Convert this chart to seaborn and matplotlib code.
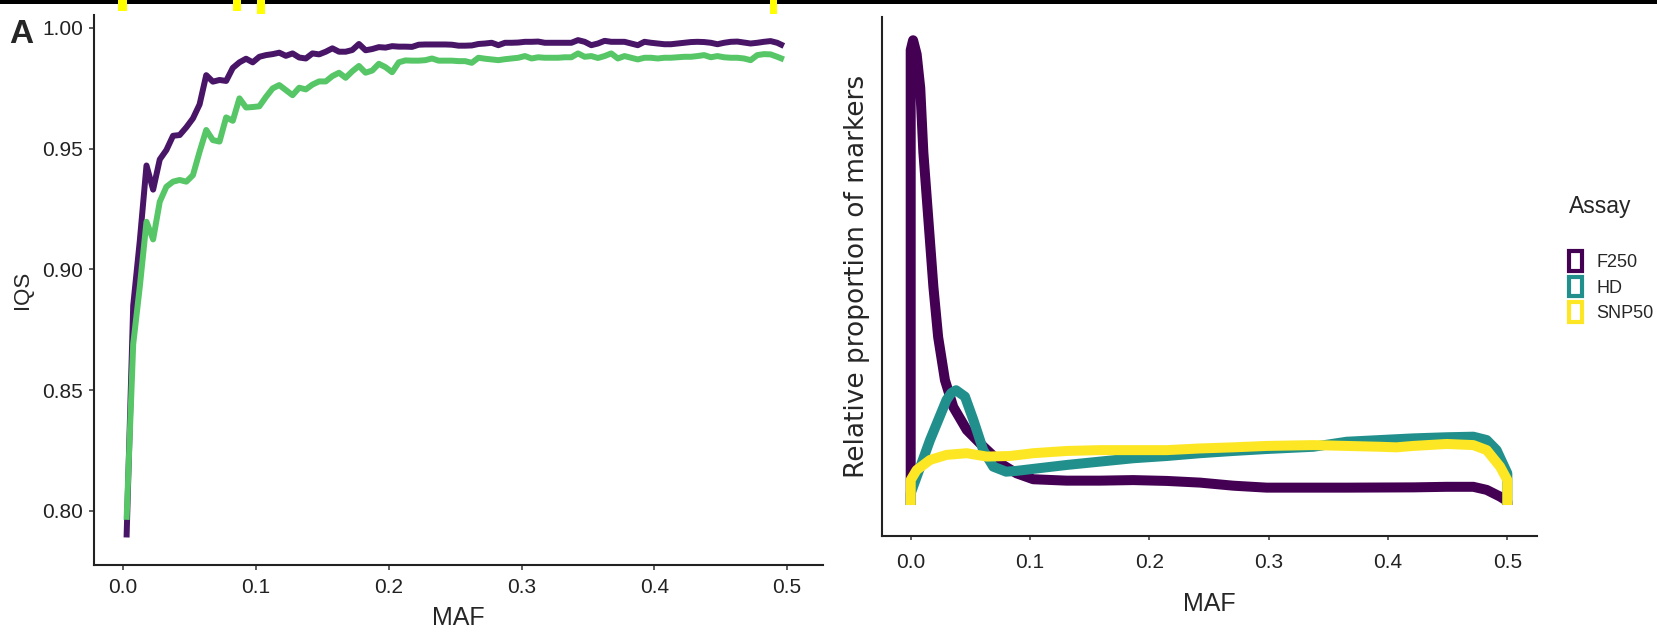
import matplotlib
matplotlib.use('Agg')
from matplotlib import pyplot as plt
from matplotlib.patches import Patch, Rectangle
from matplotlib.ticker import FormatStrFormatter
import pandas as pd
import seaborn as sns

# ---- panel A (left): IQS by MAF bin ----
maf_bins = [
    0.0025, 0.0075, 0.0125, 0.0175, 0.0225, 0.0275, 0.0325, 0.0375, 0.0425, 0.0475,
    0.0525, 0.0575, 0.0625, 0.0675, 0.0725, 0.0775, 0.0825, 0.0875, 0.0925, 0.0975,
    0.1025, 0.1075, 0.1125, 0.1175, 0.1225, 0.1275, 0.1325, 0.1375, 0.1425, 0.1475,
    0.1525, 0.1575, 0.1625, 0.1675, 0.1725, 0.1775, 0.1825, 0.1875, 0.1925, 0.1975,
    0.2025, 0.2075, 0.2125, 0.2175, 0.2225, 0.2275, 0.2325, 0.2375, 0.2425, 0.2475,
    0.2525, 0.2575, 0.2625, 0.2675, 0.2725, 0.2775, 0.2825, 0.2875, 0.2925, 0.2975,
    0.3025, 0.3075, 0.3125, 0.3175, 0.3225, 0.3275, 0.3325, 0.3375, 0.3425, 0.3475,
    0.3525, 0.3575, 0.3625, 0.3675, 0.3725, 0.3775, 0.3825, 0.3875, 0.3925, 0.3975,
    0.4025, 0.4075, 0.4125, 0.4175, 0.4225, 0.4275, 0.4325, 0.4375, 0.4425, 0.4475,
    0.4525, 0.4575, 0.4625, 0.4675, 0.4725, 0.4775, 0.4825, 0.4875, 0.4925, 0.4975,
]
iqs_purple = [
    0.789, 0.885, 0.912, 0.943, 0.933, 0.9455, 0.9494, 0.9553, 0.9556, 0.9588,
    0.9625, 0.9683, 0.9804, 0.9777, 0.9784, 0.978, 0.9834, 0.9857, 0.9872, 0.9857,
    0.988, 0.9887, 0.9891, 0.9897, 0.9884, 0.9894, 0.9877, 0.9873, 0.9894, 0.989,
    0.9901, 0.9915, 0.9901, 0.9901, 0.9908, 0.9933, 0.9907, 0.9912, 0.992, 0.9918,
    0.9924, 0.9922, 0.9922, 0.9921, 0.993, 0.9931, 0.9931, 0.9931, 0.9931, 0.993,
    0.9926, 0.9926, 0.9927, 0.9933, 0.9935, 0.9938, 0.9928, 0.9938, 0.9938, 0.9939,
    0.9942, 0.9942, 0.9943, 0.9938, 0.9938, 0.9938, 0.9938, 0.9938, 0.9949, 0.9942,
    0.9928, 0.9935, 0.9946, 0.9942, 0.9942, 0.9942, 0.9935, 0.9928, 0.9942, 0.9938,
    0.9935, 0.9932, 0.9932, 0.9935, 0.9938, 0.9941, 0.9942, 0.9941, 0.9938, 0.9932,
    0.9938, 0.9942, 0.9943, 0.9939, 0.9935, 0.9938, 0.9942, 0.9945, 0.9938, 0.9925,
]
iqs_green = [
    0.7963, 0.869, 0.893, 0.9197, 0.9124, 0.928, 0.9342, 0.9363, 0.937, 0.9363,
    0.939, 0.9487, 0.9577, 0.9535, 0.9529, 0.9629, 0.9615, 0.9708, 0.967, 0.9672,
    0.9675, 0.9714, 0.9749, 0.9763, 0.9742, 0.9721, 0.9752, 0.9745, 0.9765, 0.9778,
    0.9778, 0.98, 0.9814, 0.9793, 0.982, 0.9842, 0.9814, 0.9823, 0.9851, 0.9837,
    0.9816, 0.9857, 0.9865, 0.9864, 0.9864, 0.9866, 0.9873, 0.9864, 0.9864, 0.9864,
    0.9862, 0.9862, 0.9855, 0.9876, 0.9872, 0.9869, 0.9866, 0.987, 0.9873, 0.9876,
    0.9883, 0.9873, 0.9878, 0.9876, 0.9876, 0.9876, 0.9878, 0.9878, 0.9894, 0.988,
    0.9883, 0.9875, 0.9883, 0.9894, 0.9873, 0.9883, 0.9876, 0.9869, 0.9876, 0.9876,
    0.9873, 0.9876, 0.9876, 0.9878, 0.988, 0.988, 0.9883, 0.9887, 0.9878, 0.9883,
    0.9878, 0.9876, 0.9876, 0.9873, 0.9866, 0.9887, 0.9891, 0.989, 0.988, 0.9869,
]
iqs_series = ['purple', 'green']
iqs_colors = ['#481567', '#56C667']
iqs_ticks = [0.80, 0.85, 0.90, 0.95, 1.00]
maf_ticks = [0.0, 0.1, 0.2, 0.3, 0.4, 0.5]

# ---- right panel: MAF density per assay ----
f250_maf = [0.0, 0.0, 0.002, 0.005, 0.008, 0.0106, 0.0148, 0.019, 0.023, 0.0287,
            0.0357, 0.047, 0.061, 0.0776, 0.0888, 0.1027, 0.1307, 0.1586, 0.1865,
            0.2145, 0.2424, 0.2703, 0.2983, 0.326, 0.3654, 0.4212, 0.4492, 0.4715,
            0.4827, 0.4939, 0.4985, 0.5, 0.5]
f250_density = [0.0, 16.25, 16.6, 16.1, 14.9, 12.6, 10.2, 7.8, 6.0, 4.46,
                3.5, 2.68, 2.08, 1.42, 1.13, 0.92, 0.87, 0.87, 0.89,
                0.86, 0.80, 0.69, 0.62, 0.62, 0.62, 0.63, 0.65, 0.65,
                0.54, 0.30, 0.18, 0.12, 0.0]
hd_maf = [0.0, 0.0, 0.0162, 0.030, 0.034, 0.038, 0.0455, 0.0525, 0.0608, 0.0692,
          0.080, 0.0888, 0.1027, 0.1307, 0.1586, 0.1865, 0.2145, 0.2424, 0.2703,
          0.2983, 0.3374, 0.3654, 0.3933, 0.4212, 0.4492, 0.4715, 0.4827, 0.491,
          0.5, 0.5]
hd_density = [0.0, 0.42, 2.32, 3.75, 4.0, 4.1, 3.87, 3.04, 1.96, 1.37,
              1.19, 1.22, 1.29, 1.43, 1.55, 1.67, 1.75, 1.85, 1.93,
              2.0, 2.08, 2.26, 2.32, 2.38, 2.42, 2.44, 2.32, 1.96,
              1.13, 0.0]
snp50_maf = [0.0, 0.0, 0.005, 0.0162, 0.030, 0.047, 0.0637, 0.083, 0.1027, 0.1307,
             0.1586, 0.1865, 0.2145, 0.2424, 0.2703, 0.2983, 0.3374, 0.3654,
             0.3933, 0.407, 0.4212, 0.4492, 0.4715, 0.4827, 0.4939, 0.5, 0.5]
snp50_density = [0.0, 0.89, 1.25, 1.61, 1.79, 1.85, 1.73, 1.75, 1.85, 1.93,
                 1.96, 1.96, 1.96, 2.02, 2.06, 2.11, 2.14, 2.11,
                 2.08, 2.06, 2.11, 2.18, 2.14, 1.96, 1.37, 0.89, 0.0]
assays = ['F250', 'HD', 'SNP50']
assay_colors = ['#440154', '#21908C', '#FDE725']

# yellow flecks on the black strip along the top edge (pixel spans)
top_flecks = [(118, 127, 10.5), (233, 241, 10.5), (257, 265, 13.5), (770, 777, 13.5)]

sns.set_style('ticks')
plt.rcParams['font.family'] = ['Liberation Sans', 'DejaVu Sans']

W, H = 1657, 634
fig = plt.figure(figsize=(W / 100, H / 100), dpi=100)
ax1 = fig.add_axes([94.3 / W, 1 - 565 / H, (823 - 94.3) / W, (565 - 15) / H])
ax2 = fig.add_axes([881.7 / W, 1 - 536 / H, (1536.7 - 881.7) / W, (536 - 17) / H])

iqs_df = pd.DataFrame({
    'MAF': maf_bins + maf_bins,
    'IQS': iqs_purple + iqs_green,
    'series': [iqs_series[0]] * len(maf_bins) + [iqs_series[1]] * len(maf_bins),
})
sns.lineplot(data=iqs_df, x='MAF', y='IQS', hue='series', hue_order=iqs_series,
             palette=iqs_colors, linewidth=4.3, estimator=None, sort=False,
             legend=False, ax=ax1)

dens_df = pd.DataFrame({
    'MAF': f250_maf + hd_maf + snp50_maf,
    'density': f250_density + hd_density + snp50_density,
    'Assay': [assays[0]] * len(f250_maf) + [assays[1]] * len(hd_maf) + [assays[2]] * len(snp50_maf),
})
sns.lineplot(data=dens_df, x='MAF', y='density', hue='Assay', hue_order=assays,
             palette=assay_colors, linewidth=7.2, estimator=None, sort=False,
             legend=False, ax=ax2)

for ax in (ax1, ax2):
    for line in ax.lines:
        line.set_solid_capstyle('butt')
        line.set_solid_joinstyle('round')
    sns.despine(ax=ax)
    for side in ('left', 'bottom'):
        ax.spines[side].set_linewidth(1.5)
        ax.spines[side].set_color('#222222')
    ax.set_xticks(maf_ticks)
    ax.xaxis.set_major_formatter(FormatStrFormatter('%.1f'))

ax1.set_xlim(-0.0218, 0.527)
ax1.set_ylim(0.7776, 1.0053)
ax1.set_yticks(iqs_ticks)
ax1.yaxis.set_major_formatter(FormatStrFormatter('%.2f'))
ax1.tick_params(axis='both', length=3.6, width=1.1, color='#333333',
                labelsize=15, labelcolor='#222222')
ax1.tick_params(axis='x', pad=5.5)
ax1.tick_params(axis='y', pad=4.5)
ax1.set_xlabel('MAF', fontsize=18)
ax1.set_ylabel('IQS', fontsize=16)
ax1.xaxis.set_label_coords(0.5, -0.075)
ax1.xaxis.label.set_va('top')
ax1.yaxis.set_label_coords(-0.084, 0.5)

ax2.set_xlim(-0.0243, 0.5246)
ax2.set_ylim(-1.107, 17.43)
ax2.set_yticks([])
ax2.tick_params(axis='x', length=3, width=1.1, color='#333333',
                labelsize=15, labelcolor='#222222', pad=9)
ax2.set_xlabel('MAF', fontsize=18)
ax2.set_ylabel('Relative proportion of markers', fontsize=19, family=['DejaVu Sans'])
ax2.xaxis.set_label_coords(0.5, -0.108)
ax2.xaxis.label.set_va('top')
ax2.yaxis.set_label_coords(-0.018, 0.5)

# legend: title as its own text, keys as outlined boxes
fig.text(1569 / W, 1 - 195 / H, 'Assay', fontsize=16.5, va='top', ha='left')
handles = [Patch(facecolor='white', edgecolor=c, linewidth=3, label=a)
           for a, c in zip(assays, assay_colors)]
fig.legend(handles=handles, loc='upper left',
           bbox_to_anchor=(1569 / W, 1 - 251 / H), frameon=False,
           fontsize=13, handlelength=0.72, handleheight=1.3,
           handletextpad=0.8, labelspacing=0.32, borderpad=0, borderaxespad=0)

fig.text(9 / W, 1 - 43 / H, 'A', fontsize=24, fontweight='bold',
         va='baseline', ha='left')

# black strip with yellow flecks at the very top
fig.add_artist(Rectangle((0, 1 - 4 / H), 1, 4 / H, transform=fig.transFigure,
                         facecolor='black', edgecolor='none'))
for x0, x1, h in top_flecks:
    fig.add_artist(Rectangle((x0 / W, 1 - h / H), (x1 - x0) / W, h / H,
                             transform=fig.transFigure, facecolor='#FFFF00',
                             edgecolor='none'))

fig.savefig('out.png', dpi=100, facecolor='white')
